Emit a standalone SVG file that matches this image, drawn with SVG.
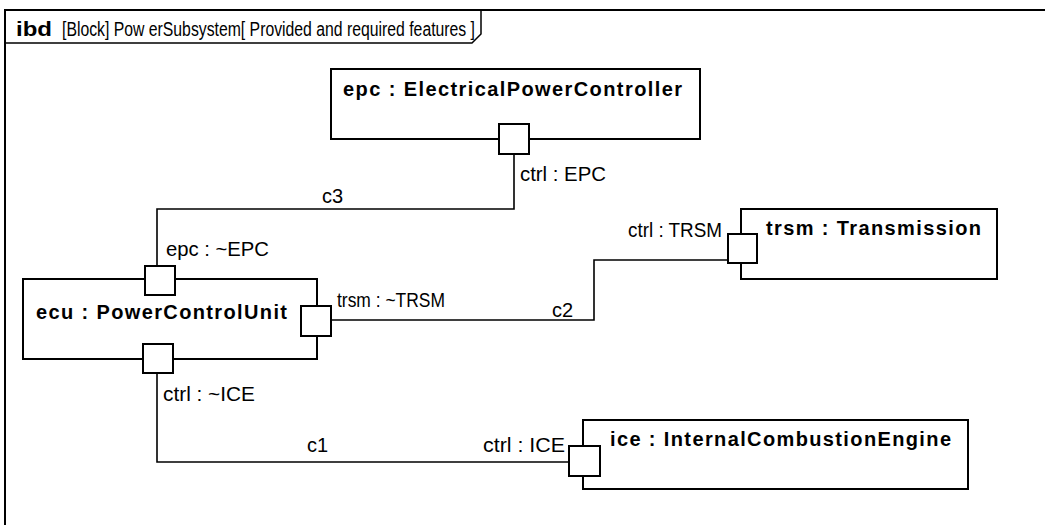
<svg xmlns="http://www.w3.org/2000/svg" width="1045" height="525" viewBox="0 0 1045 525">
<style>
.frame{fill:#fff;stroke:#000;stroke-width:2}
.tab{fill:none;stroke:#000;stroke-width:1.5}
.block{fill:#fff;stroke:#000;stroke-width:2}
.port{fill:#fff;stroke:#000;stroke-width:2}
.conn{fill:none;stroke:#000;stroke-width:1.6}
.t{font-family:"Liberation Sans",Arial,sans-serif;font-size:20px;fill:#000}
.b{font-family:"Liberation Sans",Arial,sans-serif;font-size:20px;font-weight:bold;fill:#000}
</style>
<rect width="1045" height="525" fill="#fff"/>
<g id="frame">
<rect class="frame" x="5" y="10" width="1060" height="530"/>
<path class="tab" d="M5,43 H472 L481,34 V10"/>
<text class="b" x="16" y="36" font-size="21" textLength="36" lengthAdjust="spacingAndGlyphs">ibd</text>
<text class="t" x="62" y="36" font-size="21" textLength="413" lengthAdjust="spacingAndGlyphs">[Block] Pow erSubsystem[ Provided and required features ]</text>
</g>
<g id="connectors">
<path id="c3" class="conn" d="M514,154 V209 H157 V266"/>
<path id="c2" class="conn" d="M331,320 H594 V260 H728"/>
<path id="c1" class="conn" d="M157,373 V462 H569"/>
<text class="t" x="322" y="203">c3</text>
<text class="t" x="552" y="317">c2</text>
<text class="t" x="307" y="452" textLength="21">c1</text>
</g>
<g id="epc">
<rect class="block" x="331" y="69" width="369" height="70"/>
<text class="b" x="343" y="96" textLength="339">epc : ElectricalPowerController</text>
<rect class="port" x="499" y="124" width="30" height="30"/>
<text class="t" x="520" y="181" textLength="86" lengthAdjust="spacingAndGlyphs">ctrl : EPC</text>
</g>
<g id="ecu">
<rect class="block" x="23" y="279" width="294" height="80"/>
<text class="b" x="36" y="319" textLength="251">ecu : PowerControlUnit</text>
<rect class="port" x="145" y="266" width="30" height="29"/>
<rect class="port" x="301" y="306" width="30" height="30"/>
<rect class="port" x="143" y="344" width="30" height="29"/>
<text class="t" x="166" y="256" textLength="103" lengthAdjust="spacingAndGlyphs">epc : ~EPC</text>
<text class="t" x="337" y="307" textLength="108" lengthAdjust="spacingAndGlyphs">trsm : ~TRSM</text>
<text class="t" x="163" y="401" textLength="92" lengthAdjust="spacingAndGlyphs">ctrl : ~ICE</text>
</g>
<g id="trsm">
<rect class="block" x="741" y="209" width="256" height="70"/>
<text class="b" x="766" y="235" textLength="215">trsm : Transmission</text>
<rect class="port" x="728" y="234" width="29" height="29"/>
<text class="t" x="628" y="237" textLength="94" lengthAdjust="spacingAndGlyphs">ctrl : TRSM</text>
</g>
<g id="ice">
<rect class="block" x="583" y="420" width="385" height="69"/>
<text class="b" x="610" y="446" textLength="341">ice : InternalCombustionEngine</text>
<rect class="port" x="569" y="446" width="31" height="30"/>
<text class="t" x="483" y="452" textLength="82" lengthAdjust="spacingAndGlyphs">ctrl : ICE</text>
</g>
</svg>
